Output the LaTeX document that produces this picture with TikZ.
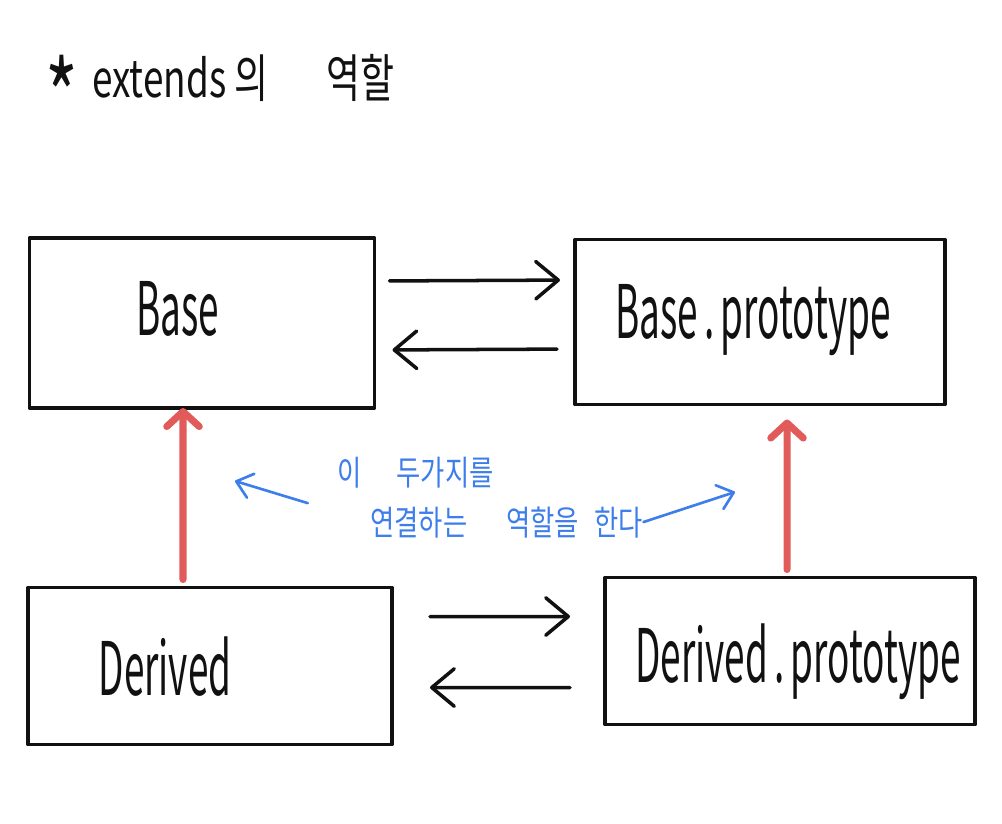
\documentclass[tikz,border=0pt]{standalone}
\usepackage{fontspec}
\usepackage{tikz}
\usetikzlibrary{arrows.meta}
\newfontfamily\hand{Noto Sans CJK KR}
\definecolor{rot}{HTML}{E25B5B}
\definecolor{blau}{HTML}{3D7EEA}
\definecolor{tinte}{HTML}{111111}
\tikzset{
  kasten/.style={draw=tinte,line width=2.2pt,inner sep=0pt,outer sep=0pt,line join=round},
  schrift/.style={font=\hand\fontsize{21}{24}\selectfont,tinte,anchor=base,inner sep=0pt,yscale=2.0},
  titel/.style={font=\hand\fontsize{21}{24}\selectfont,tinte,anchor=base west,inner sep=0pt,yscale=1.4},
  notiz/.style={font=\hand\fontsize{15}{17}\selectfont,blau,anchor=base west,inner sep=0pt,yscale=1.3},
  pfeil/.style={-{Straight Barb[length=4.5mm,width=7.5mm,round]},tinte,line width=2pt,line cap=round},
  vererb/.style={-{Straight Barb[length=3mm,width=6.5mm,round]},rot,line width=4pt,line cap=round},
  hinweis/.style={-{Straight Barb[length=3mm,width=5mm,round]},blau,line width=1.5pt,line cap=round},
}
\begin{document}
\begin{tikzpicture}[x=0.2mm,y=-0.2mm]
  \useasboundingbox (0,0) rectangle (1002,823);
  \node[titel] (ueber) at (45,97) {\raisebox{-15pt}{\fontsize{40}{40}\selectfont*}\hspace{8pt}extends 의\hspace{33pt}역할};
  % Kaesten
  \node[kasten,minimum width=69mm,minimum height=34mm] (base) at (202,323) {};
  \node[kasten,minimum width=74mm,minimum height=33mm] (basep) at (760,322) {};
  \node[kasten,minimum width=72.8mm,minimum height=31.4mm] (derived) at (210,666) {};
  \node[kasten,minimum width=74mm,minimum height=29.4mm] (derivedp) at (790,651) {};
  \node[schrift] (baset) at (178,335) {Base};
  \node[schrift] (basept) at (753,338) {Base\,.\,prototype};
  \node[schrift] (derivedt) at (165,695) {Derived};
  \node[schrift] (derivedpt) at (798,682) {Derived\,.\,prototype};
  % Verweise
  \draw[pfeil,shorten <=3mm,shorten >=3mm] ([yshift=8.4mm]base.east) -- ([yshift=8.4mm]basep.west);
  \draw[pfeil,shorten <=3.6mm,shorten >=3.6mm] ([yshift=-5.4mm]basep.west) -- ([yshift=-5.4mm]base.east);
  \draw[pfeil,shorten <=7.6mm,shorten >=7mm] ([yshift=9.9mm]derived.east) -- ([yshift=6.9mm]derivedp.west);
  \draw[pfeil,shorten <=7mm,shorten >=7.6mm] ([yshift=-7.3mm]derivedp.west) -- ([yshift=-4.3mm]derived.east);
  \draw[vererb,shorten <=1.6mm] ([xshift=-5.4mm]derived.north) -- ([xshift=-3.8mm]base.south);
  \draw[vererb,shorten <=1.6mm,shorten >=3mm] ([xshift=-0.6mm]derivedp.north) -- ([xshift=5.4mm]basep.south);
  % Notiz
  \node[notiz] (satz1) at (337,485) {이\hspace{20pt}두가지를};
  \node[notiz] (satz2) at (370,535) {연결하는\hspace{22pt}역할을\hspace{9pt}한다};
  \coordinate (links) at (235,481);
  \coordinate (rechts) at (735,492);
  \draw[hinweis,shorten <=13mm] (satz2.west) -- (links);
  \draw[hinweis] (satz2.east) -- (rechts);
\end{tikzpicture}
\end{document}
